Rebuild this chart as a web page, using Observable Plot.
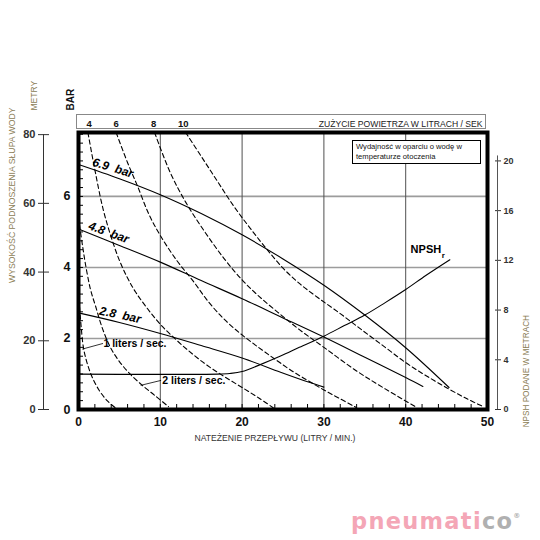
<!DOCTYPE html>
<html><head><meta charset="utf-8">
<script src="https://cdn.jsdelivr.net/npm/d3@7"></script>
<script src="https://cdn.jsdelivr.net/npm/@observablehq/plot@0.6"></script>
<style>
body{margin:0;background:#fff;}
#wrap{position:relative;width:540px;height:540px;font-family:"Liberation Sans",Arial,sans-serif;}
#wrap svg{position:absolute;left:0;top:0;}
.airbox{position:absolute;left:76px;top:114px;width:410px;height:15px;border:1px solid #888;box-sizing:border-box;}
.note{position:absolute;left:352px;top:140px;width:129px;height:24px;border:1px solid #000;box-sizing:border-box;background:#fff;font-size:7.6px;line-height:10px;padding:1px 0 0 3px;color:#111;}
.logo{position:absolute;left:351px;top:507px;width:185px;height:28px;font-family:"DejaVu Sans","Liberation Sans",sans-serif;font-weight:bold;font-size:22.5px;letter-spacing:1.3px;line-height:28px;white-space:nowrap;}
.logo .p{color:#f4a6b6}.logo .g{color:#b0b0b0}.logo .r{font-size:7px;color:#b0b0b0;letter-spacing:0;position:relative;top:-11px;}
</style></head><body><div id="wrap"></div>
<script>
// ---- axis ticks / labels ----
const flowTicks = [0,10,20,30,40,50];
const flowMinor = d3.range(0,51,2);
const barTicks = [0,2,4,6];
const barMinor = d3.range(0,7.8,0.25);
const metryTicks = [0,20,40,60,80];
const npshTicks = [0,4,8,12,16,20];
const airTopLabels = ["4","6","8","10"];
const airTopX = [1.3,4.6,9.2,12.8];

// ---- pressure curves (flow l/min -> head bar) ----
const p69X = [0,5,10,15,20,25,30,35,40,45.3];
const p69Y = [6.9,6.5,6.05,5.52,4.92,4.24,3.5,2.66,1.74,0.62];
const p48X = [0,5,10,15,20,25,30,35,40,42.1];
const p48Y = [5.08,4.62,4.15,3.63,3.12,2.58,2.04,1.47,0.9,0.65];
const p28X = [0,5,10,15,20,24.7,28,30];
const p28Y = [2.72,2.45,2.14,1.8,1.45,1.05,0.78,0.63];

// ---- NPSHr (flow l/min -> metres) ----
const npshX = [0,17,18.5,20,22,24.7,27,30,32.5,35,37.5,40,42.5,45.4];
const npshM = [2.85,2.85,2.9,3.05,3.55,4.3,5.0,5.9,6.75,7.6,8.6,9.65,10.8,12.05];

// ---- air consumption curves (flow l/min -> head bar) ----
const air1X = [0,0.3,0.6,1.0,1.6,2.5,3.5,4.5];
const air1Y = [3.3,2.4,1.75,1.35,0.95,0.55,0.25,0.05];
const air2X = [0,0.5,1.0,1.5,2.1,2.9,3.9,5,6.3,7.8,9.3,11];
const air2Y = [5.4,4.6,3.9,3.35,2.9,2.3,1.75,1.35,1.0,0.68,0.4,0.08];
const air4X = [1.15,2,3,4,5,6,7,8.4,10,12,14,16,18,20,22,23.8];
const air4Y = [7.8,6.75,5.65,4.85,4.2,3.7,3.3,2.85,2.4,1.95,1.55,1.2,0.9,0.62,0.33,0.05];
const air6X = [4.6,6,7.2,8.6,10,12,14,16,18,20,22,24,26,28,30,32,34];
const air6Y = [7.8,6.95,6.3,5.5,4.9,4.2,3.62,3.0,2.5,2.1,1.75,1.42,1.1,0.82,0.55,0.3,0.05];
const air8X = [9.3,11.2,13.1,15.3,17.8,20,22,24.3,27,30,33.9,37.5,41.4];
const air8Y = [7.8,6.68,5.84,5.05,4.25,3.65,3.2,2.75,2.25,1.75,1.1,0.58,0.05];
const air10X = [13.1,15,17,19,21,23,25,27,29.2,32,34.7,37.5,40,42.5,45.1,47.5,49.5];
const air10Y = [7.8,7.13,6.42,5.72,5.1,4.52,3.98,3.55,3.16,2.7,2.23,1.75,1.32,0.95,0.6,0.3,0.08];

// unit conversions for the secondary axes
const NPSH_TO_BAR = 7/20;     // 20 m NPSH sits level with 7 bar
const M_TO_BAR = 7.74/80;     // 80 m head sits level with 7.74 bar

const toRows = (xs, ys, name) => xs.map((x,i) => ({x, y: ys[i], name}));
const pressureRows = [...toRows(p69X,p69Y,"6.9"),...toRows(p48X,p48Y,"4.8"),...toRows(p28X,p28Y,"2.8")];
const airRows = [...toRows(air1X,air1Y,"1"),...toRows(air2X,air2Y,"2"),...toRows(air4X,air4Y,"4"),
                 ...toRows(air6X,air6Y,"6"),...toRows(air8X,air8Y,"8"),...toRows(air10X,air10Y,"10")];
const npshRows = npshX.map((x,i) => ({x, y: npshM[i]*NPSH_TO_BAR}));

const olive = "#8a7c55";
const chart = Plot.plot({
  width: 540, height: 540,
  marginLeft: 78, marginRight: 53, marginTop: 132, marginBottom: 131,
  x: {domain: [0,50]},
  y: {domain: [0,7.8]},
  style: {fontFamily: "Liberation Sans, Arial, sans-serif", background: "transparent", overflow: "visible"},
  marks: [
    Plot.gridY([2,4,6], {stroke: "#9c9c9c", strokeOpacity: 1, strokeWidth: 1.6}),
    Plot.gridX([10,20,30,40], {stroke: "#505050", strokeOpacity: 1, strokeWidth: 1}),
    Plot.line(airRows, {x: "x", y: "y", z: "name", stroke: "#000", strokeWidth: 1.1, strokeDasharray: "4.5,3", curve: "catmull-rom", clip: true}),
    Plot.line(pressureRows, {x: "x", y: "y", z: "name", stroke: "#000", strokeWidth: 1.1, curve: "catmull-rom"}),
    Plot.line(npshRows, {x: "x", y: "y", stroke: "#000", strokeWidth: 1.1, curve: "catmull-rom"}),
    Plot.frame({stroke: "#000", strokeWidth: 4}),
    // bottom axis
    Plot.axisX(flowTicks, {anchor: "bottom", tickSize: 0, tickPadding: 8, fontSize: 12, fontWeight: "bold", label: null, color: "#111"}),
    Plot.axisX(flowMinor, {anchor: "bottom", tickSize: -5, tickFormat: () => "", label: null, strokeWidth: 1}),
    // left bar axis
    Plot.axisY(barTicks, {anchor: "left", tickSize: 0, tickPadding: 8, fontSize: 12.5, fontWeight: "bold", label: null, color: "#111"}),
    Plot.axisY(barMinor, {anchor: "left", tickSize: -5, tickFormat: () => "", label: null}),
    // metry axis (outer left)
    Plot.axisY(metryTicks.map(m => m*M_TO_BAR), {anchor: "left", dx: -29, tickSize: 11, tickPadding: 3, tickFormat: d => Math.round(d/M_TO_BAR), fontSize: 11, fontWeight: "bold", label: null, color: "#333"}),
    Plot.ruleX([0], {dx: -35, y1: 0, y2: 80*M_TO_BAR, stroke: "#333", strokeWidth: 1}),
    // NPSH axis (right)
    Plot.axisY(npshTicks.map(m => m*NPSH_TO_BAR), {anchor: "right", dx: 7, tickSize: 6, tickPadding: 3, tickFormat: d => Math.round(d/NPSH_TO_BAR), fontSize: 9, fontWeight: "bold", label: null, color: "#333"}),
    Plot.ruleX([50], {dx: 10, y1: 0, y2: 20.4*NPSH_TO_BAR, stroke: "#555", strokeWidth: 1}),
    // air consumption labels on top
    Plot.text(airTopX, {x: d => d, frameAnchor: "top", dy: -12, text: (d,i) => airTopLabels[i], fontSize: 9.5, fontWeight: "bold", fill: "#111"}),
    Plot.text(["ZUŻYCIE POWIETRZA W LITRACH / SEK"], {frameAnchor: "top-right", dx: -5, dy: -12, text: d => d, textAnchor: "end", fontSize: 8.6, fill: "#222"}),
    // titles
    Plot.text(["BAR"], {frameAnchor: "top-left", dx: -12, dy: -22, text: d => d, rotate: -90, fontSize: 10, fontWeight: "bold", fill: "#111"}),
    Plot.text(["METRY"], {frameAnchor: "top-left", dx: -48, dy: -22, text: d => d, rotate: -90, fontSize: 8.5, fill: olive}),
    Plot.text(["WYSOKOŚĆ PODNOSZENIA SŁUPA WODY"], {frameAnchor: "left", dx: -66, dy: 12, text: d => d, rotate: -90, fontSize: 8.7, fill: olive}),
    Plot.text(["NPSH PODANE W METRACH"], {frameAnchor: "right", dx: 39, dy: 44, text: d => d, rotate: -90, fontSize: 8.2, fill: olive}),
    Plot.text(["NATEŻENIE PRZEPŁYWU (LITRY / MIN.)"], {frameAnchor: "bottom", dx: -8, dy: 31, text: d => d, fontSize: 8.6, fill: "#333"}),
    // curve labels
    Plot.text(["6.9  bar"], {x: 4.2, y: 6.8, text: d => d, rotate: 17, fontSize: 12, fontWeight: "bold", fontStyle: "italic", fill: "#000"}),
    Plot.text(["4.8  bar"], {x: 3.7, y: 4.98, text: d => d, rotate: 20, fontSize: 12, fontWeight: "bold", fontStyle: "italic", fill: "#000"}),
    Plot.text(["2.8  bar"], {x: 5.1, y: 2.66, text: d => d, rotate: 12, fontSize: 12, fontWeight: "bold", fontStyle: "italic", fill: "#000"}),
    Plot.text(["NPSH"], {x: 40.6, y: 4.5, text: d => d, textAnchor: "start", fontSize: 11, fontWeight: "bold", fill: "#000"}),
    Plot.text(["r"], {x: 44.4, y: 4.33, text: d => d, textAnchor: "start", fontSize: 8, fontWeight: "bold", fill: "#000"}),
    Plot.link([0], {x1: 0.45, y1: 1.7, x2: 3.0, y2: 1.86, stroke: "#000", strokeWidth: 0.8}),
    Plot.text(["1 liters / sec."], {x: 3.05, y: 1.86, text: d => d, textAnchor: "start", fontSize: 10.5, fill: "#000", fontWeight: 600}),
    Plot.link([0], {x1: 7.6, y1: 0.68, x2: 10.1, y2: 0.82, stroke: "#000", strokeWidth: 0.8}),
    Plot.text(["2 liters / sec."], {x: 10.25, y: 0.82, text: d => d, textAnchor: "start", fontSize: 10.5, fill: "#000", fontWeight: 600})
  ]
});
const wrap = document.getElementById("wrap");
wrap.appendChild(chart);
const box = document.createElement("div"); box.className = "airbox"; wrap.appendChild(box);
const note = document.createElement("div"); note.className = "note";
note.innerHTML = "Wydajność w oparciu o wodę w<br>temperaturze otoczenia"; wrap.appendChild(note);
const logo = document.createElement("div"); logo.className = "logo";
logo.innerHTML = '<span class="p">pneumati</span><span class="g">co</span><span class="r">®</span>'; wrap.appendChild(logo);
</script>
</body></html>
